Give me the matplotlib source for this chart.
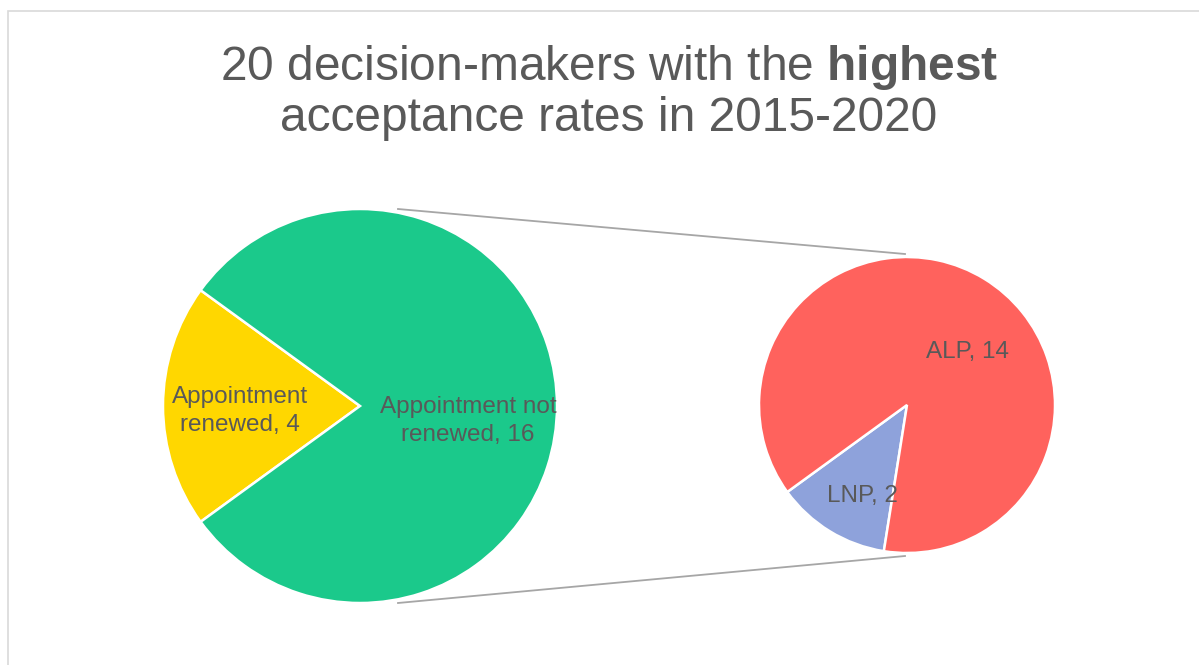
import numpy as np
import matplotlib
matplotlib.use("Agg")
import matplotlib.pyplot as plt

# data
outer_labels = ["Appointment\nrenewed", "Appointment not\nrenewed"]
outer_values = [4, 16]
inner_labels = ["LNP", "ALP"]
inner_values = [2, 14]

outer_colors = ["#FFD700", "#1BC98B"]
inner_colors = ["#8EA2DB", "#FF625D"]
TEXT = "#595959"

plt.rcParams["font.family"] = ["Liberation Sans", "DejaVu Sans"]
plt.rcParams["mathtext.fontset"] = "custom"
plt.rcParams["mathtext.rm"] = "Liberation Sans"
plt.rcParams["mathtext.bf"] = "Liberation Sans:bold"

W, H = 1199, 665
fig = plt.figure(figsize=(W / 100, H / 100), dpi=100)
ax = fig.add_axes([0, 0, 1, 1])


def py(y):
    # pixel row -> data y
    return H - y


# frame (only left and top edges visible in the crop)
ax.plot([7.5, 7.5, W], [0, H - 10.5, H - 10.5], color="#D9D9D9", lw=1.2,
        solid_joinstyle="miter")

big_c, big_r = (360, py(406)), 197
small_c, small_r = (907, py(405)), 148

wedge_kw = dict(edgecolor="white", linewidth=1.8)
ax.pie(outer_values, colors=outer_colors, startangle=144, center=big_c,
       radius=big_r, wedgeprops=wedge_kw, frame=True)
ax.pie(inner_values, colors=inner_colors, startangle=216, center=small_c,
       radius=small_r, wedgeprops=wedge_kw, frame=True)
ax.set_xlim(0, W)
ax.set_ylim(0, H)
ax.set_aspect("equal")
ax.axis("off")

# connector lines between the two pies
ax.plot([398, 905], [py(209), py(254)], color="#A6A6A6", lw=1.3)
ax.plot([398, 905], [py(603), py(556)], color="#A6A6A6", lw=1.3)

# data labels
fs = 17.5
outer_pos = [(240, 411), (468, 421)]
for lab, val, (x, y) in zip(outer_labels, outer_values, outer_pos):
    ax.text(x, py(y), f"{lab}, {val}", ha="center", va="center",
            fontsize=fs, color=TEXT, linespacing=1.3)
inner_pos = [(862, 496), (968, 352)]
for lab, val, (x, y) in zip(inner_labels, inner_values, inner_pos):
    ax.text(x, py(y), f"{lab}, {val}", ha="center", va="center",
            fontsize=fs, color=TEXT)

# title
ax.text(609, py(80), r"20 decision-makers with the $\bf{highest}$",
        ha="center", va="baseline", fontsize=34.5, color=TEXT)
ax.text(609, py(131), "acceptance rates in 2015-2020",
        ha="center", va="baseline", fontsize=34.5, color=TEXT)

fig.savefig("out.png", dpi=100, facecolor="white")
